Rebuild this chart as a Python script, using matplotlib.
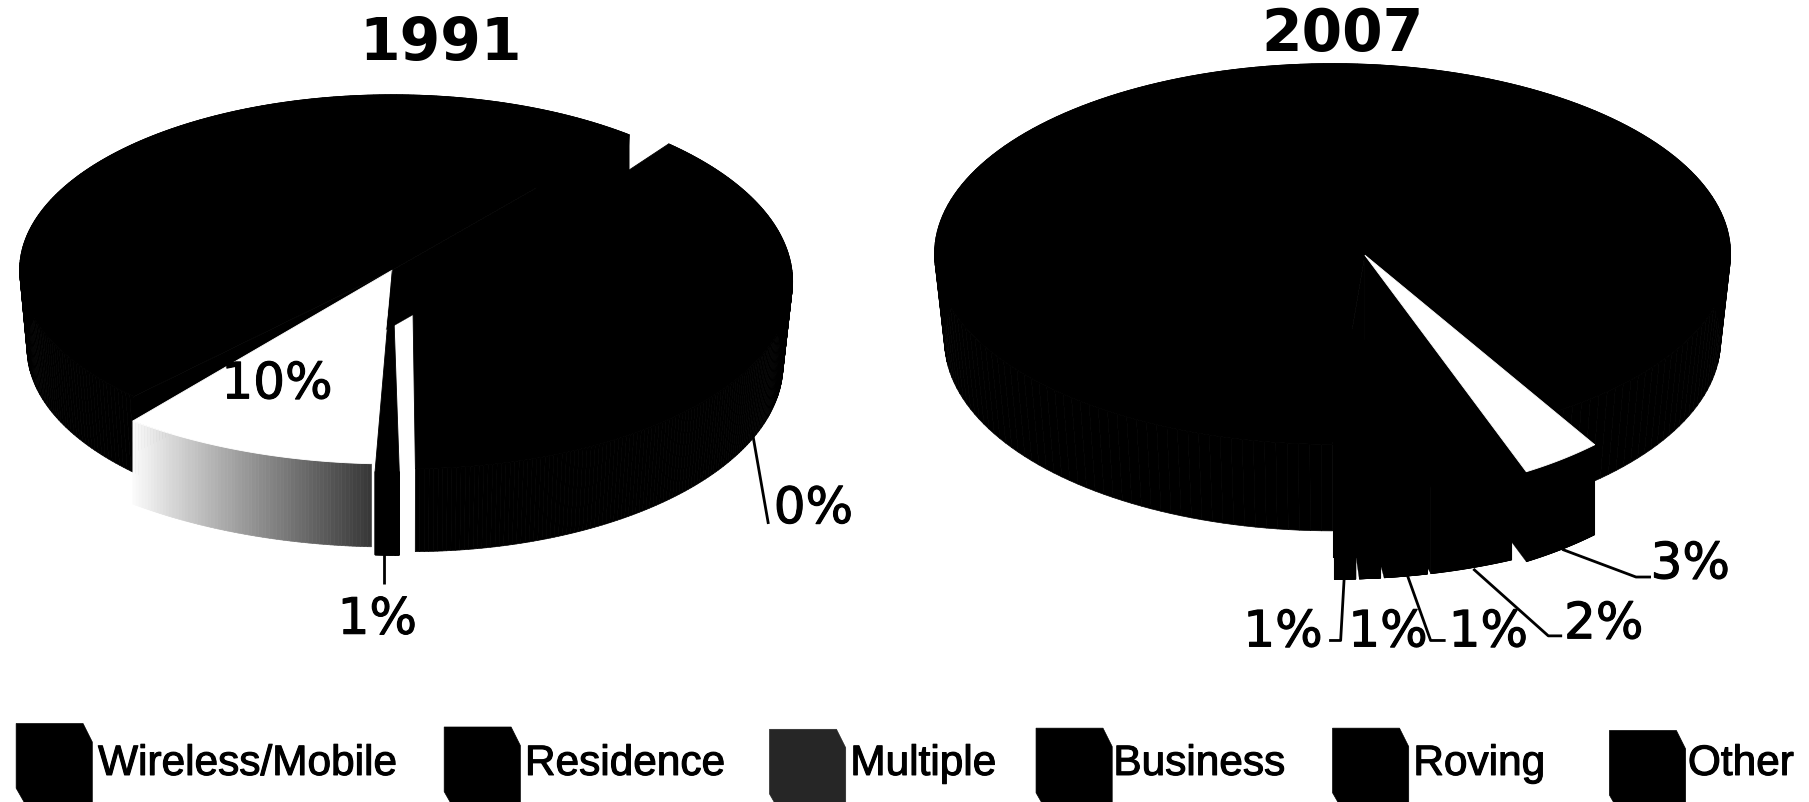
import numpy as np
import matplotlib
matplotlib.use("Agg")
import matplotlib.pyplot as plt
from matplotlib.patches import Polygon
from matplotlib.collections import PolyCollection
import matplotlib.patheffects as pe

# ---------- data ----------
categories = ["Wireless/Mobile", "Residence", "Multiple", "Business", "Roving", "Other"]
shares_1991 = [38, 1, 10, 51, 0, 0]
shares_2007 = [89.5, 3, 3.6, 1.9, 1, 1]
labels_1991 = ["0%", "1%", "10%"]
labels_2007 = ["3%", "2%", "1%", "1%", "1%"]
years = ["1991", "2007"]

# ---------- style / layout (units: reference px at 1568 wide) ----------
W, H = 1809, 803
K = H / 696.0
START_1991, START_2007 = 47.5, -90.0
# each: apex, ellipse centre, rx, ry, depth, wall depth, pads, top colour, taper of the lower rim
geom_1991 = {
    "Business":        dict(apex=(340, 235), c=(340, 235), rx=323, ry=152, d=68, wall=49, pad=(-5, -3), top="k", taper=0.98),
    "Multiple":        dict(apex=(340, 235), c=(340, 235), rx=358, ry=168, d=72, wall=0, pad=(0, 0), top="w", grad=True),
    "Residence":       dict(apex=(340, 235), c=(342, 240), rx=335, ry=170, d=72, wall=0, pad=(0, 0), top="k"),
    "Wireless/Mobile": dict(apex=(358, 272), c=(356, 245), rx=331, ry=162, d=72, wall=0, pad=(0, 0), top="k", taper=0.975),
}
small = dict(apex=(1155, 271), c=(1155, 271), rx=345, ry=157, d=75, wall=75, pad=(-0.25, -0.25), top="k", back=56)
geom_2007 = {
    "Other": small, "Roving": small, "Business": small, "Multiple": dict(small, back=0),
    "Wireless/Mobile": dict(apex=(1183, 222), c=(1155, 221), rx=345, ry=165, d=75, wall=75, pad=(0, 4), top="k", taper=0.975),
    "Residence": dict(apex=(1183, 222), c=(1183, 222), rx=325, ry=208, d=78, wall=78, pad=(0, 1.5), top="w"),
}
order_1991 = ["Business", "Multiple", "Residence", "Wireless/Mobile"]
order_2007 = ["Wireless/Mobile", "Other", "Roving", "Business", "Multiple", "Residence"]

swatch_x = [14, 385, 667, 898, 1155, 1395]
swatch_y = [628, 631, 633, 632, 632, 634]
legend_text_x = [85, 455, 737, 965, 1225, 1463]
swatch_col = ["k", "k", "#262626", "k", "k", "k"]

fig = plt.figure(figsize=(W / 100, H / 100), dpi=100, facecolor="white")
ax = fig.add_axes([0, 0, 1, 1])
ax.set_xlim(0, W / K)
ax.set_ylim(H / K, 0)
ax.axis("off")


def angles(shares, start):
    """Clockwise start / end angle of every slice from its share."""
    edges = start - 3.6 * np.concatenate([[0], np.cumsum(shares)])
    return {c: (edges[i], edges[i + 1]) for i, c in enumerate(categories)}


def rim(g, a, b, n=200):
    t = np.radians(np.linspace(a, b, n))
    return np.column_stack([g["c"][0] + g["rx"] * np.cos(t), g["c"][1] - g["ry"] * np.sin(t)])


def band(r, depth, colors="k", cx=0.0, taper=1.0):
    """Side face as separate quads, so that it stays filled where the rim turns."""
    low = r + np.array([0, depth])
    low[:, 0] = cx + (low[:, 0] - cx) * taper
    quads = [[r[i], r[i + 1], low[i + 1], low[i]] for i in range(len(r) - 1)]
    ax.add_collection(PolyCollection(quads, facecolors=colors, edgecolors=colors, linewidths=0.5, zorder=2))


def draw_slice(g, a0, b0):
    a, b = a0 + g["pad"][0], b0 - g["pad"][1]
    r = rim(g, a, b)
    apex = np.array(g["apex"], float)
    if g.get("back"):
        band(rim(g, a0, b0), g["back"])
    if g.get("grad"):
        m = 70
        f = np.arange(m) / (m - 1)       # 0 next to the dark end
        cols = [str(min(0.22 + 0.76 * v, 1)) for v in f]
        band(rim(g, a, b, m + 1), g["d"], cols)
    else:
        band(r, g["d"], "k", g["c"][0], g.get("taper", 1.0))
    if g["wall"]:
        w = np.array([0, g["wall"]])
        for p in (r[0], r[-1]):
            ax.add_patch(Polygon([apex, p, p + w, apex + w], fc="k", ec="k", lw=0.2, zorder=2))
    ax.add_patch(Polygon(np.vstack([apex, r]), fc=g["top"], ec=g["top"], lw=0.6, zorder=2))


ang91 = angles(shares_1991, START_1991)
for c in order_1991:
    draw_slice(geom_1991[c], *ang91[c])
ang07 = angles(shares_2007, START_2007)
for c in order_2007:
    draw_slice(geom_2007[c], *ang07[c])

# titles
for yr, x, y in zip(years, (382, 1164), (38, 30)):
    ax.text(x, y, yr, ha="center", va="center", fontsize=42, fontweight="bold",
            family="DejaVu Sans", color="k", zorder=5)

# slice labels with leader lines
lab_font = dict(ha="center", va="center", fontsize=36, family="DejaVu Sans", color="k", zorder=5,
                path_effects=[pe.withStroke(linewidth=0.8, foreground="k")])
for txt, pos in zip(labels_1991, [(705, 442), (327, 538), (240, 334)]):
    ax.text(*pos, txt, **lab_font)
for txt, pos in zip(labels_2007, [(1465, 490), (1390, 542), (1290, 549), (1203, 549), (1112, 549)]):
    ax.text(*pos, txt, **lab_font)

leaders = [
    ([652, 666], [375, 455]),
    ([333, 333], [480, 507]),
    ([1165, 1162, 1152], [503, 556, 556]),
    ([1220, 1240, 1253], [500, 556, 556]),
    ([1277, 1342, 1354], [494, 552, 552]),
    ([1354, 1418, 1431], [477, 501, 501]),
]
for xs, ys in leaders:
    ax.plot(xs, ys, color="k", lw=2.0, zorder=4, solid_capstyle="butt")

# legend
for name, sx, sy, tx, col in zip(categories, swatch_x, swatch_y, legend_text_x, swatch_col):
    w, h = 66, 70
    ax.add_patch(Polygon([(sx, sy), (sx + w - 8, sy), (sx + w, sy + 16), (sx + w, sy + h),
                          (sx + 8, sy + h), (sx, sy + h - 14)], fc=col, ec=col, lw=0.5, zorder=3))
    ax.text(tx, 663, name, ha="left", va="center", fontsize=30.5, family="Liberation Sans", color="k", zorder=5,
            path_effects=[pe.withStroke(linewidth=0.8, foreground="k")])

fig.savefig("out.png", dpi=100, facecolor="white")
